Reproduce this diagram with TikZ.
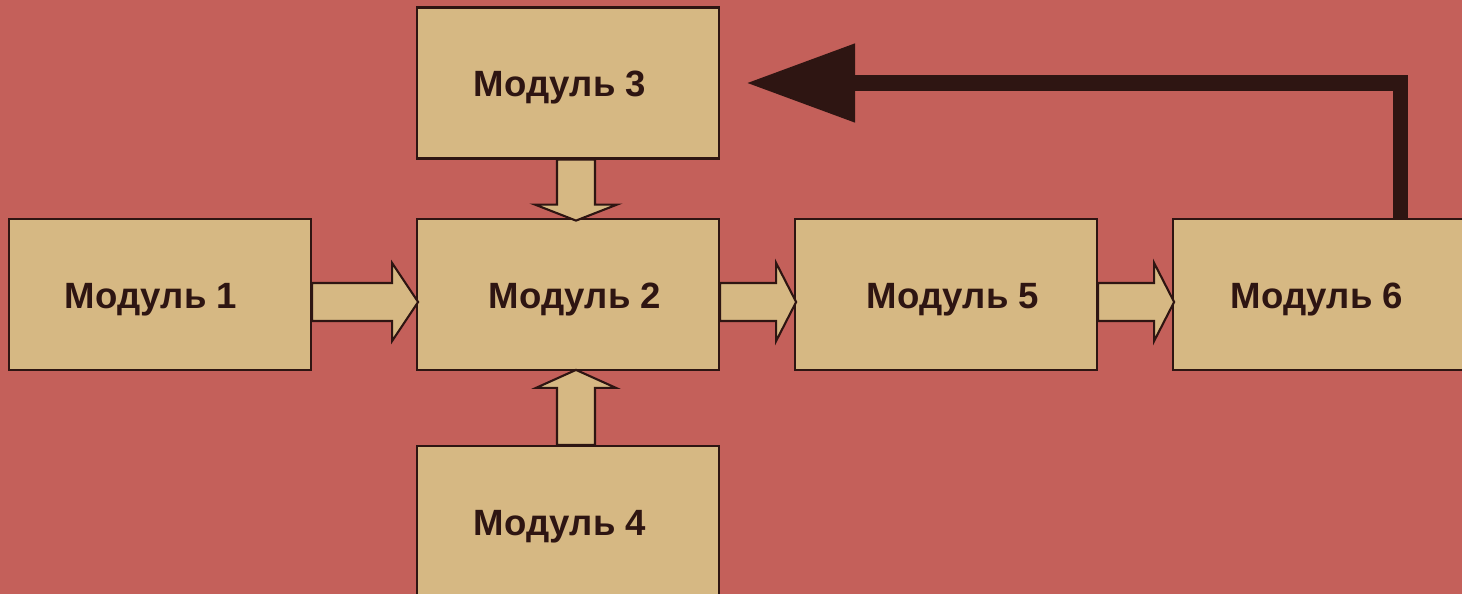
\documentclass[tikz,border=0pt]{standalone}
\usepackage{fontspec}
\setmainfont{Liberation Sans}
\usepackage{tikz}
\usetikzlibrary{arrows.meta}

\definecolor{hintergrund}{HTML}{C4605A}
\definecolor{kasten}{HTML}{D6B883}
\definecolor{dunkel}{HTML}{2E1512}

\tikzset{
  modul/.style={draw=dunkel, fill=kasten, line width=0.6pt,
    minimum width=3.02cm, minimum height=1.51cm, inner sep=0pt,
    text height=0.27cm, text depth=0pt,
    text=dunkel, font=\fontsize{10.4}{12}\selectfont\bfseries},
  blockpfeil/.style={draw=dunkel, fill=kasten, line width=0.6pt, line join=miter},
  rueckpfeil/.style={draw=dunkel, line width=0.15cm,
    -{Triangle[length=1.09cm, width=0.75cm]}, shorten >=0.26cm}
}

\begin{document}
\begin{tikzpicture}[x=0.01cm, y=-0.01cm]
                \fill[hintergrund] (0,0) rectangle (1462,594);
                \clip (0,0) rectangle (1462,594);

                %% Module
                \node[modul] (m1) at (160,294.5)  {\hspace*{-0.18cm}Модуль 1};
                \node[modul] (m2) at (568,294.5)  {\hspace*{0.14cm}Модуль 2};
                \node[modul] (m3) at (568,83)     {\hspace*{-0.16cm}Модуль 3};
                \node[modul] (m4) at (568,521.5)  {\hspace*{-0.16cm}Модуль 4};
                \node[modul] (m5) at (946,294.5)  {\hspace*{0.14cm}Модуль 5};
                \node[modul] (m6) at (1324,294.5) {\hspace*{-0.14cm}Модуль 6};

                %% Blockpfeile
                %1 -> 2
                \draw[blockpfeil] (m1.east) ++(0,-11.5) -- ++(80,0) -- ++(0,-20)
                    -- ++(26,39) -- ++(-26,39) -- ++(0,-20) -- ++(-80,0) -- cycle;
                %3 -> 2
                \draw[blockpfeil] (m3.south) ++(-11,0) -- ++(0,45) -- ++(-22,0)
                    -- ++(41,16) -- ++(41,-16) -- ++(-22,0) -- ++(0,-45) -- cycle;
                %4 -> 2
                \draw[blockpfeil] (m4.north) ++(-11,0) -- ++(0,-57) -- ++(-21,0)
                    -- ++(40,-18) -- ++(40,18) -- ++(-21,0) -- ++(0,57) -- cycle;
                %2 -> 5
                \draw[blockpfeil] (m2.east) ++(0,-11.5) -- ++(56,0) -- ++(0,-20)
                    -- ++(20,39) -- ++(-20,39) -- ++(0,-20) -- ++(-56,0) -- cycle;
                %5 -> 6
                \draw[blockpfeil] (m5.east) ++(0,-11.5) -- ++(56,0) -- ++(0,-20)
                    -- ++(20,39) -- ++(-20,39) -- ++(0,-20) -- ++(-56,0) -- cycle;

                %% Rueckfuehrung 6 -> 3
                \draw[rueckpfeil] ([xshift=0.76cm]m6.north) |- (m3.east);

\end{tikzpicture}
\end{document}
